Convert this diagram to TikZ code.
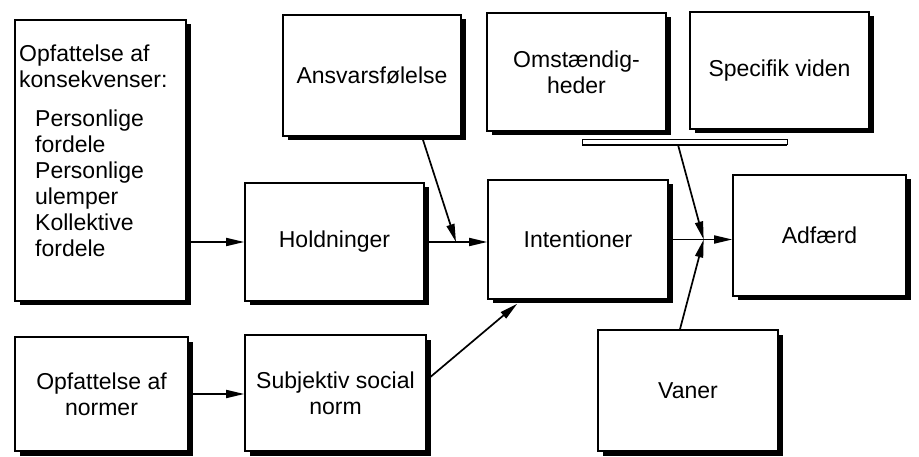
\documentclass[tikz,border=0pt]{standalone}
\usepackage{fontspec}
\setmainfont{Liberation Sans}
\usetikzlibrary{shadows,arrows.meta,calc}
\begin{document}
\begin{tikzpicture}[x=1pt,y=-1pt,
  txt/.style={font=\fontsize{23}{26}\selectfont},
  box/.style={draw, fill=white, line width=1.6pt, inner sep=2pt, align=center, txt,
    drop shadow={shadow xshift=4.5pt, shadow yshift=-4.5pt, opacity=1, fill=black}},
  arr/.style={line width=1.7pt, -{Triangle[length=18pt,width=8pt]}},
]
\fill[white] (0,0) rectangle (919,457);
\useasboundingbox (0,0) rectangle (919,457);

\node[box, minimum width=171pt, minimum height=281pt] (k) at (100.5,160.5) {};
\node[txt, anchor=north west, align=left, inner sep=0pt] (kt) at (19,45)
  {Opfattelse af\\konsekvenser:\\[13pt]\hspace*{16pt}Personlige\\\hspace*{16pt}fordele\\\hspace*{16pt}Personlige\\\hspace*{16pt}ulemper\\\hspace*{16pt}Kollektive\\\hspace*{16pt}fordele};

\node[box, minimum width=179pt, minimum height=118pt] (h) at (334.5,242) {Holdninger};
\node[box, minimum width=178pt, minimum height=121pt] (a) at (372,75.5) {Ansvarsfølelse};
\node[box, minimum width=179pt, minimum height=118pt] (o) at (576.5,72) {Omstændig-\\heder};
\node[box, minimum width=179pt, minimum height=117pt] (s) at (779.5,70.5) {Specifik viden};
\node[box, minimum width=180pt, minimum height=119pt] (i) at (578,239.5) {Intentioner};
\node[box, minimum width=173pt, minimum height=121pt] (d) at (819.5,235.5) {Adfærd};
\node[box, minimum width=180pt, minimum height=121pt] (v) at (688,390.5) {Vaner};
\node[box, minimum width=173pt, minimum height=114pt] (n) at (101.5,394) {Opfattelse af\\normer};
\node[box, minimum width=181pt, minimum height=116pt] (sn) at (335.5,393) {Subjektiv social\\norm};

% bracket under Omstændigheder and Specifik viden
\coordinate (bl) at ($(o.south)+(5.5,8)$);
\coordinate (br) at ($(s.south)+(7.5,15)$);
\draw[line width=1pt] (bl) rectangle (br);
\draw[line width=2.2pt] (bl |- br) -- (br);
\coordinate (bt) at ($(bl |- br)+(96,0)$);

% connectors
\draw[arr] (k.east |- h.west) -- (h.west);
\draw[arr] (n.east) -- (n.east -| sn.west);
\draw[arr] (h.east) -- (h.east -| i.west);
\coordinate (ha) at ($(h.east)!0.5!(h.east -| i.west)$);
\draw[arr] ($(a.south)+(50,0)$) -- (ha);
\draw[arr] ($(sn.east)+(0,-13)$) -- ($(i.south west)+(30,4)$);
\draw[arr] (i.east) -- (i.east -| d.west);
\coordinate (m) at ($(i.east)!0.55!(i.east -| d.west)$);
\draw[arr] (bt) -- (m);
\draw[arr] ($(v.north)+(-8,0)$) -- (m);
\end{tikzpicture}
\end{document}
